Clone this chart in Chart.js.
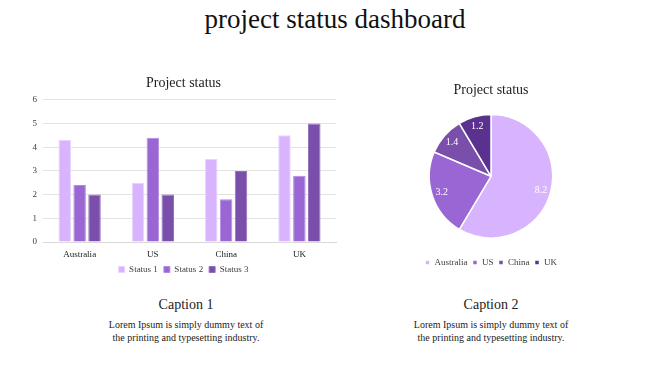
<!DOCTYPE html>
<html><head><meta charset="utf-8">
<script src="https://cdn.jsdelivr.net/npm/chart.js@4/dist/chart.umd.min.js"></script>
<style>
html,body{margin:0;padding:0;background:#fff;width:670px;height:376px;overflow:hidden;font-family:"Liberation Serif","DejaVu Serif",serif;}
.t{position:absolute;left:0;width:670px;top:4px;text-align:center;font-size:27px;color:#111;}
#bw{position:absolute;left:23px;top:70px;width:326px;height:214px;}
#pw{position:absolute;left:391px;top:75px;width:200px;height:202px;}
.cap{position:absolute;width:240px;text-align:center;color:#222;}
.cap h3{margin:0;font-weight:normal;font-size:14px;line-height:18px;}
.cap p{margin:4px 0 0 0;font-size:10px;line-height:13px;}
</style></head><body>
<div class="t">project status dashboard</div>
<div id="bw"><canvas id="bar"></canvas></div>
<div id="pw"><canvas id="pie"></canvas></div>
<div class="cap" style="left:66px;top:296px"><h3>Caption 1</h3><p>Lorem Ipsum is simply dummy text of<br>the printing and typesetting industry.</p></div>
<div class="cap" style="left:371px;top:296px"><h3>Caption 2</h3><p>Lorem Ipsum is simply dummy text of<br>the printing and typesetting industry.</p></div>
<script>
const categories = ["Australia","US","China","UK"];
const status1 = [4.3, 2.5, 3.5, 4.5];
const status2 = [2.4, 4.4, 1.8, 2.8];
const status3 = [2.0, 2.0, 3.0, 5.0];
const yTicks = [0,1,2,3,4,5,6];
const pieLabels = ["Australia","US","China","UK"];
const pieValues = [8.2, 3.2, 1.4, 1.2];

const c1="#d9b4fe", c2="#9966d3", c3="#7a4eab", c4="#5b3190";
const SERIF='"Liberation Serif","DejaVu Serif",serif';
Chart.defaults.font.family = SERIF;
Chart.defaults.color = "#404040";

new Chart(document.getElementById("bar"), {
  type:"bar",
  data:{labels:categories, datasets:[
    {label:"Status 1", data:status1, backgroundColor:c1, borderColor:"#e8d4ff", borderWidth:1},
    {label:"Status 2", data:status2, backgroundColor:c2, borderColor:"#b38be0", borderWidth:1},
    {label:"Status 3", data:status3, backgroundColor:c3, borderColor:"#9670c0", borderWidth:1}
  ]},
  options:{
    responsive:true, maintainAspectRatio:false, animation:false,
    layout:{padding:{left:8,right:13,top:0,bottom:0}},
    datasets:{bar:{categoryPercentage:0.61, barPercentage:0.84}},
    plugins:{
      title:{display:true, text:"Project status", color:"#222", font:{size:14, weight:"normal"}, padding:{top:5,bottom:8}},
      legend:{position:"bottom", labels:{boxWidth:6, boxHeight:6, font:{size:9}, padding:6, color:"#404040"}},
      tooltip:{enabled:false}
    },
    scales:{
      x:{grid:{display:false, drawTicks:false}, border:{color:"#d9d9d9"},
         ticks:{font:{size:9}, color:"#222", padding:7},
         afterFit:s=>{s.paddingLeft=0; s.paddingRight=0; s.height=17;}},
      y:{min:0, max:6, afterBuildTicks:a=>{a.ticks=yTicks.map(v=>({value:v}));},
         grid:{color:"#e3e3e3", drawTicks:false}, border:{display:false},
         ticks:{font:{size:9}, padding:6, color:"#404040"},
         afterFit:s=>{s.width=12;}}
    }
  }
});

const pieLabelPlugin = {
  id:"pieLabels",
  afterDatasetsDraw(chart){
    const ctx=chart.ctx; const meta=chart.getDatasetMeta(0);
    ctx.save(); ctx.fillStyle="#fff"; ctx.font="10px "+SERIF; ctx.textAlign="center"; ctx.textBaseline="middle";
    meta.data.forEach((arc,i)=>{
      const a=(arc.startAngle+arc.endAngle)/2, r=arc.outerRadius*0.84;
      ctx.fillText(pieValues[i].toFixed(1), arc.x+Math.cos(a)*r, arc.y+Math.sin(a)*r);
    });
    ctx.restore();
  }
};

new Chart(document.getElementById("pie"), {
  type:"pie",
  data:{labels:pieLabels, datasets:[{data:pieValues, backgroundColor:[c1,c2,c3,c4], borderColor:"#fff", borderWidth:1.5}]},
  options:{
    responsive:true, maintainAspectRatio:false, animation:false,
    layout:{padding:{top:0,bottom:0}},
    plugins:{
      title:{display:true, text:"Project status", color:"#222", font:{size:14, weight:"normal"}, padding:{top:7,bottom:15}},
      legend:{position:"bottom",
        title:{display:true, text:" ", color:"rgba(0,0,0,0)", font:{size:1}, padding:{top:0,bottom:13}},
        labels:{boxWidth:5, boxHeight:5, font:{size:9}, padding:5, color:"#404040"}},
      tooltip:{enabled:false}
    }
  },
  plugins:[pieLabelPlugin]
});
</script>
</body></html>
